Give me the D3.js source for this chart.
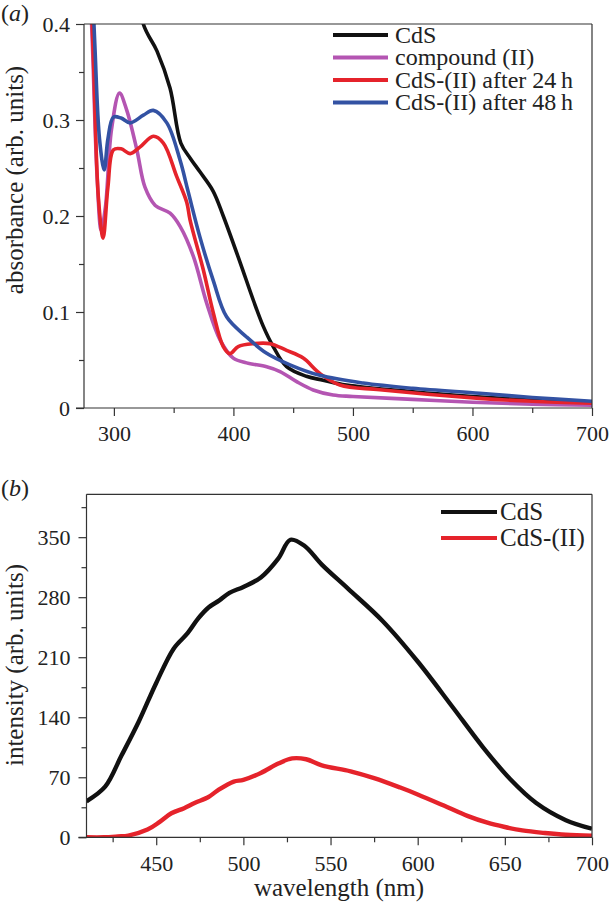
<!DOCTYPE html>
<html>
<head>
<meta charset="utf-8">
<script src="https://cdn.jsdelivr.net/npm/d3@7"></script>
<style>
  body { margin: 0; background: #fff; }
  svg text { font-family: "Liberation Serif", Tinos, "Times New Roman", Times, serif; fill: #222; }
</style>
</head>
<body>
<svg id="chart" width="611" height="904"></svg>
<script>
// ---- panel (a): absorbance, [wavelength nm, absorbance]
var cdsAbs = [[300,0.62],[312,0.5],[324.6,0.4],[336,0.372],[347,0.333],[356,0.276],[364,0.26],[372,0.246],[383,0.226],[391.5,0.2],[405.5,0.152],[416.6,0.1125],[425,0.085],[433.3,0.064],[444.5,0.043],[461,0.033],[475,0.029],[494.6,0.024],[550,0.017],[600,0.012],[650,0.008],[700,0.005]];
var compoundAbs = [[278,0.5],[282,0.38],[286,0.24],[289.4,0.185],[293,0.21],[298,0.29],[304.7,0.328],[310.8,0.31],[319.2,0.269],[326,0.23],[334.6,0.211],[347,0.203],[355.5,0.189],[366.5,0.158],[377.7,0.109],[388.8,0.071],[399.9,0.052],[411,0.047],[427.8,0.043],[439,0.038],[452.9,0.0274],[466.7,0.0188],[483.4,0.0135],[500,0.012],[550,0.009],[600,0.006],[650,0.004],[700,0.003]];
var abs24h = [[279,0.5],[283,0.36],[287,0.22],[291,0.177],[295,0.23],[299.7,0.269],[306,0.27],[313.6,0.265],[322,0.272],[333,0.283],[341.4,0.276],[352.6,0.241],[361,0.214],[363.7,0.196],[374.8,0.144],[383.2,0.099],[391.5,0.064],[397,0.0566],[404,0.064],[416.6,0.067],[430.6,0.067],[444.5,0.06],[458.4,0.052],[472.3,0.036],[489,0.024],[522.5,0.019],[606,0.01],[650,0.007],[700,0.005]];
var abs48h = [[280,0.5],[284,0.38],[288,0.28],[291.9,0.248],[295,0.28],[299.6,0.303],[306,0.302],[313.6,0.297],[324.7,0.305],[333,0.31],[344.3,0.297],[355.4,0.258],[362,0.226],[372,0.178],[383.1,0.133],[394.3,0.095],[411,0.074],[427.8,0.057],[447.3,0.045],[472.3,0.034],[508.5,0.026],[550,0.0205],[606,0.0153],[650,0.011],[700,0.007]];
var absSeries = [cdsAbs, compoundAbs, abs24h, abs48h];
var absNames = ["CdS", "compound (II)", "CdS-(II) after 24\u2009h", "CdS-(II) after 48\u2009h"];
var absColors = ["#111111", "#b455b2", "#e5232b", "#3352a3"];
var absXTicks = [300, 400, 500, 600, 700];
var absYTicks = [0, 0.1, 0.2, 0.3, 0.4];

// ---- panel (b): photoluminescence, [wavelength nm, intensity]
var cdsPL = [[410,42],[420.7,59],[430,95],[440,135],[450,180],[460,220],[468,238],[474,255],[480,268],[486,276],[492,285],[500,292],[510,303],[520,325],[527,347],[535,340],[545,318],[560,290],[580,252],[600,205],[620,152],[637.5,105],[653,68],[668,40],[685,20],[700,10]];
var cdsIIPL = [[410,0],[420,0],[428,1],[434,2],[445,9],[452,18],[458.7,28],[466,34],[472,40],[480,47],[485.5,55],[494.5,65],[500,67],[510,75],[520,86],[528,92],[536,91],[545,84],[561.5,77],[575,69],[590,58],[600,50],[615,37],[628.5,25],[640,17],[650,12],[660,8],[673,5],[685,3],[700,2]];
var plSeries = [cdsPL, cdsIIPL];
var plNames = ["CdS", "CdS-(II)"];
var plColors = ["#111111", "#e5232b"];
var plXTicks = [450, 500, 550, 600, 650, 700];
var plYTicks = [0, 70, 140, 210, 280, 350];

var svg = d3.select("#chart");

function panel(opt) {
  var g = svg.append("g");
  var x = d3.scaleLinear().domain(opt.xDomain).range([opt.left, opt.right]);
  var y = d3.scaleLinear().domain(opt.yDomain).range([opt.bottom, opt.top]);

  var clipId = "clip-" + opt.tag;
  svg.append("clipPath").attr("id", clipId)
    .append("rect")
    .attr("x", opt.left).attr("y", opt.top)
    .attr("width", opt.right - opt.left).attr("height", opt.bottom - opt.top);

  var line = d3.line()
    .x(function(d) { return x(d[0]); })
    .y(function(d) { return y(d[1]); })
    .curve(d3.curveCatmullRom.alpha(0.5));

  g.append("g").attr("clip-path", "url(#" + clipId + ")")
    .selectAll("path")
    .data(opt.series)
    .enter()
    .append("path")
    .attr("d", line)
    .attr("fill", "none")
    .attr("stroke", function(d, i) { return opt.colors[i]; })
    .attr("stroke-width", opt.lw)
    .attr("stroke-linejoin", "round");

  // minor ticks
  g.append("g")
    .attr("transform", "translate(0," + opt.bottom + ")")
    .call(d3.axisBottom(x).tickValues(opt.xMinor).tickSize(5).tickFormat(""))
    .call(function(s) { s.select(".domain").remove(); });
  g.append("g")
    .attr("transform", "translate(" + opt.left + ",0)")
    .call(d3.axisLeft(y).tickValues(opt.yMinor).tickSize(5).tickFormat(""))
    .call(function(s) { s.select(".domain").remove(); });

  var xAxis = g.append("g")
    .attr("transform", "translate(0," + opt.bottom + ")")
    .call(d3.axisBottom(x).tickValues(opt.xTicks).tickSize(8).tickSizeOuter(0).tickPadding(opt.xPad).tickFormat(d3.format("d")));
  var yAxis = g.append("g")
    .attr("transform", "translate(" + opt.left + ",0)")
    .call(d3.axisLeft(y).tickValues(opt.yTicks).tickSize(8).tickSizeOuter(0).tickPadding(opt.yPad).tickFormat(opt.yFormat));

  [xAxis, yAxis].forEach(function(a) {
    a.select(".domain").remove();
    a.attr("font-family", null).attr("font-size", null);
    a.selectAll("text").style("font-size", "22px");
  });
  g.selectAll(".tick line").attr("stroke", "#333").attr("stroke-width", 1.2);

  // frame: axis lines + top/right border
  g.append("line").attr("x1", opt.left - 8).attr("x2", opt.right)
    .attr("y1", opt.bottom).attr("y2", opt.bottom).attr("stroke", "#333").attr("stroke-width", 1.2);
  g.append("line").attr("x1", opt.left).attr("x2", opt.left)
    .attr("y1", opt.top).attr("y2", opt.bottom).attr("stroke", "#333").attr("stroke-width", 1.2);
  g.append("line").attr("x1", opt.left).attr("x2", opt.right)
    .attr("y1", opt.top).attr("y2", opt.top).attr("stroke", "#333").attr("stroke-width", 1.2);
  g.append("line").attr("x1", opt.right).attr("x2", opt.right)
    .attr("y1", opt.top).attr("y2", opt.bottom).attr("stroke", "#333").attr("stroke-width", 1.2);

  // legend
  var leg = g.selectAll(".leg")
    .data(opt.names)
    .enter()
    .append("g")
    .attr("transform", function(d, i) { return "translate(" + opt.legX + "," + (opt.legY + i * opt.legStep) + ")"; });
  leg.append("line")
    .attr("x1", 0).attr("x2", opt.legLen)
    .attr("stroke", function(d, i) { return opt.colors[i]; })
    .attr("stroke-width", 4);
  leg.append("text")
    .attr("x", opt.legLen + opt.legGap)
    .attr("dy", "0.33em")
    .style("font-size", opt.legFont)
    .text(function(d) { return d; });

  // y label
  g.append("text")
    .attr("transform", "translate(" + opt.yLabX + "," + opt.yLabY + ") rotate(-90)")
    .attr("text-anchor", "middle")
    .style("font-size", "25px")
    .text(opt.yLabel);

  // panel letter
  var t = g.append("text").attr("x", 1).attr("y", opt.letterY).style("font-size", "24px");
  t.append("tspan").text("(");
  t.append("tspan").style("font-style", "italic").text(opt.letter);
  t.append("tspan").text(")");

  return { x: x, y: y };
}

panel({
  tag: "a",
  left: 84, right: 592, top: 24, bottom: 408,
  xDomain: [275, 700], yDomain: [0, 0.4],
  series: absSeries, colors: absColors, names: absNames, lw: 3.6,
  xTicks: absXTicks, yTicks: absYTicks,
  xMinor: [350, 450, 550, 650], yMinor: [0.05, 0.15, 0.25, 0.35],
  xPad: 9, yPad: 6,
  yFormat: function(d) { return d === 0 ? "0" : d3.format(".1f")(d); },
  legX: 333, legY: 35, legStep: 22.5, legLen: 55, legGap: 7, legFont: "24px",
  yLabel: "absorbance (arb. units)", yLabX: 23, yLabY: 180,
  letter: "a", letterY: 21
});

panel({
  tag: "b",
  left: 86.5, right: 592, top: 494.3, bottom: 837.3,
  xDomain: [410, 700], yDomain: [0, 400],
  series: plSeries, colors: plColors, names: plNames, lw: 4.4,
  xTicks: plXTicks, yTicks: plYTicks,
  xMinor: [425, 475, 525, 575, 625, 675], yMinor: [35, 105, 175, 245, 315, 385],
  xPad: 10, yPad: 8,
  yFormat: d3.format("d"),
  legX: 441, legY: 512, legStep: 26, legLen: 56, legGap: 3, legFont: "25px",
  yLabel: "intensity (arb. units)", yLabX: 23, yLabY: 665,
  letter: "b", letterY: 496
});

svg.append("text")
  .attr("x", 339).attr("y", 896)
  .attr("text-anchor", "middle")
  .style("font-size", "25px")
  .text("wavelength (nm)");
</script>
</body>
</html>
